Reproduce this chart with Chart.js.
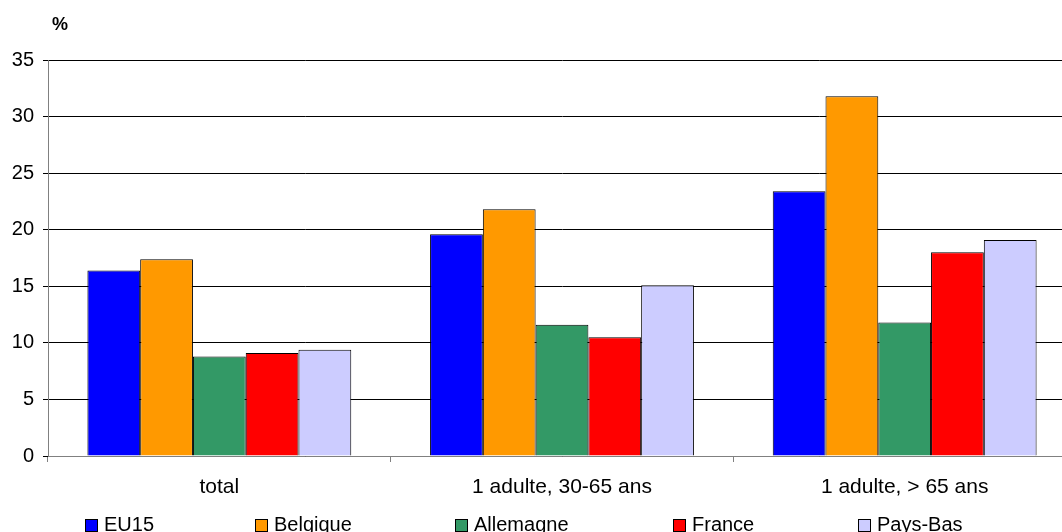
<!DOCTYPE html>
<html>
<head>
<meta charset="utf-8">
<script src="https://cdn.jsdelivr.net/npm/chart.js@4/dist/chart.umd.min.js"></script>
<style>
  html, body { margin: 0; padding: 0; background: #fff; overflow: hidden; }
  #wrap { width: 1062px; height: 532px; overflow: hidden; }
  #box { width: 1076px; height: 540px; }
</style>
</head>
<body>
<div id="wrap"><div id="box"><canvas id="chart"></canvas></div></div>
<script>
const categories = ['total', '1 adulte, 30-65 ans', '1 adulte, > 65 ans'];
const countries = ['EU15', 'Belgique', 'Allemagne', 'France', 'Pays-Bas'];
const eu15 = [16.4, 19.6, 23.4];
const belgique = [17.4, 21.8, 31.8];
const allemagne = [8.8, 11.6, 11.8];
const france = [9.1, 10.5, 18.0];
const paysBas = [9.4, 15.1, 19.1];
const colors = ['#0000FF', '#FF9900', '#339966', '#FF0000', '#CCCCFF'];
const yTicks = [0, 5, 10, 15, 20, 25, 30, 35];

const FONT = 'Liberation Sans, Arial, sans-serif';
const series = [eu15, belgique, allemagne, france, paysBas];

// legend entries sit in fixed columns along the bottom edge
const legendX = [85, 255, 455, 673, 858];

// "%" unit label above the value axis
const unitLabel = {
  id: 'unitLabel',
  afterDraw(chart) {
    const ctx = chart.ctx;
    ctx.save();
    ctx.font = 'bold 18px ' + FONT;
    ctx.fillStyle = '#000';
    ctx.textBaseline = 'alphabetic';
    ctx.fillText('%', 52, 30);
    ctx.restore();
  }
};

const columnLegend = {
  id: 'columnLegend',
  afterDraw(chart) {
    const ctx = chart.ctx;
    ctx.save();
    ctx.font = '20px ' + FONT;
    ctx.textBaseline = 'alphabetic';
    chart.data.datasets.forEach((ds, i) => {
      const x = legendX[i];
      ctx.fillStyle = ds.backgroundColor;
      ctx.fillRect(x + 0.5, 519.5, 12, 12);
      ctx.strokeStyle = '#000';
      ctx.lineWidth = 1;
      ctx.strokeRect(x + 0.5, 519.5, 12, 12);
      ctx.fillStyle = '#000';
      ctx.fillText(ds.label, x + 19, 531);
    });
    ctx.restore();
  }
};

new Chart(document.getElementById('chart'), {
  type: 'bar',
  data: {
    labels: categories,
    datasets: countries.map((name, i) => ({
      label: name,
      data: series[i],
      backgroundColor: colors[i],
      borderColor: '#000',
      borderWidth: 1,
      categoryPercentage: 0.77,
      barPercentage: 1
    }))
  },
  options: {
    responsive: true,
    maintainAspectRatio: false,
    animation: false,
    layout: { padding: { top: 60, left: 0, right: 0, bottom: 32 } },
    plugins: {
      tooltip: { enabled: false },
      legend: { display: false }
    },
    scales: {
      x: {
        offset: true,
        grid: { offset: true, drawOnChartArea: false, drawTicks: true, tickLength: 6, color: '#808080' },
        border: { color: '#808080' },
        ticks: { font: { family: FONT, size: 21 }, color: '#000', padding: 13, maxRotation: 0 },
        afterFit(scale) { scale.height = 52; }
      },
      y: {
        min: 0,
        max: 35,
        afterBuildTicks(scale) { scale.ticks = yTicks.map(v => ({ value: v })); },
        grid: { color: '#000', tickLength: 5 },
        border: { color: '#808080' },
        ticks: { font: { family: FONT, size: 20 }, color: '#000', padding: 9 },
        afterFit(scale) { scale.width = 48; }
      }
    }
  },
  plugins: [unitLabel, columnLegend]
});
</script>
</body>
</html>
